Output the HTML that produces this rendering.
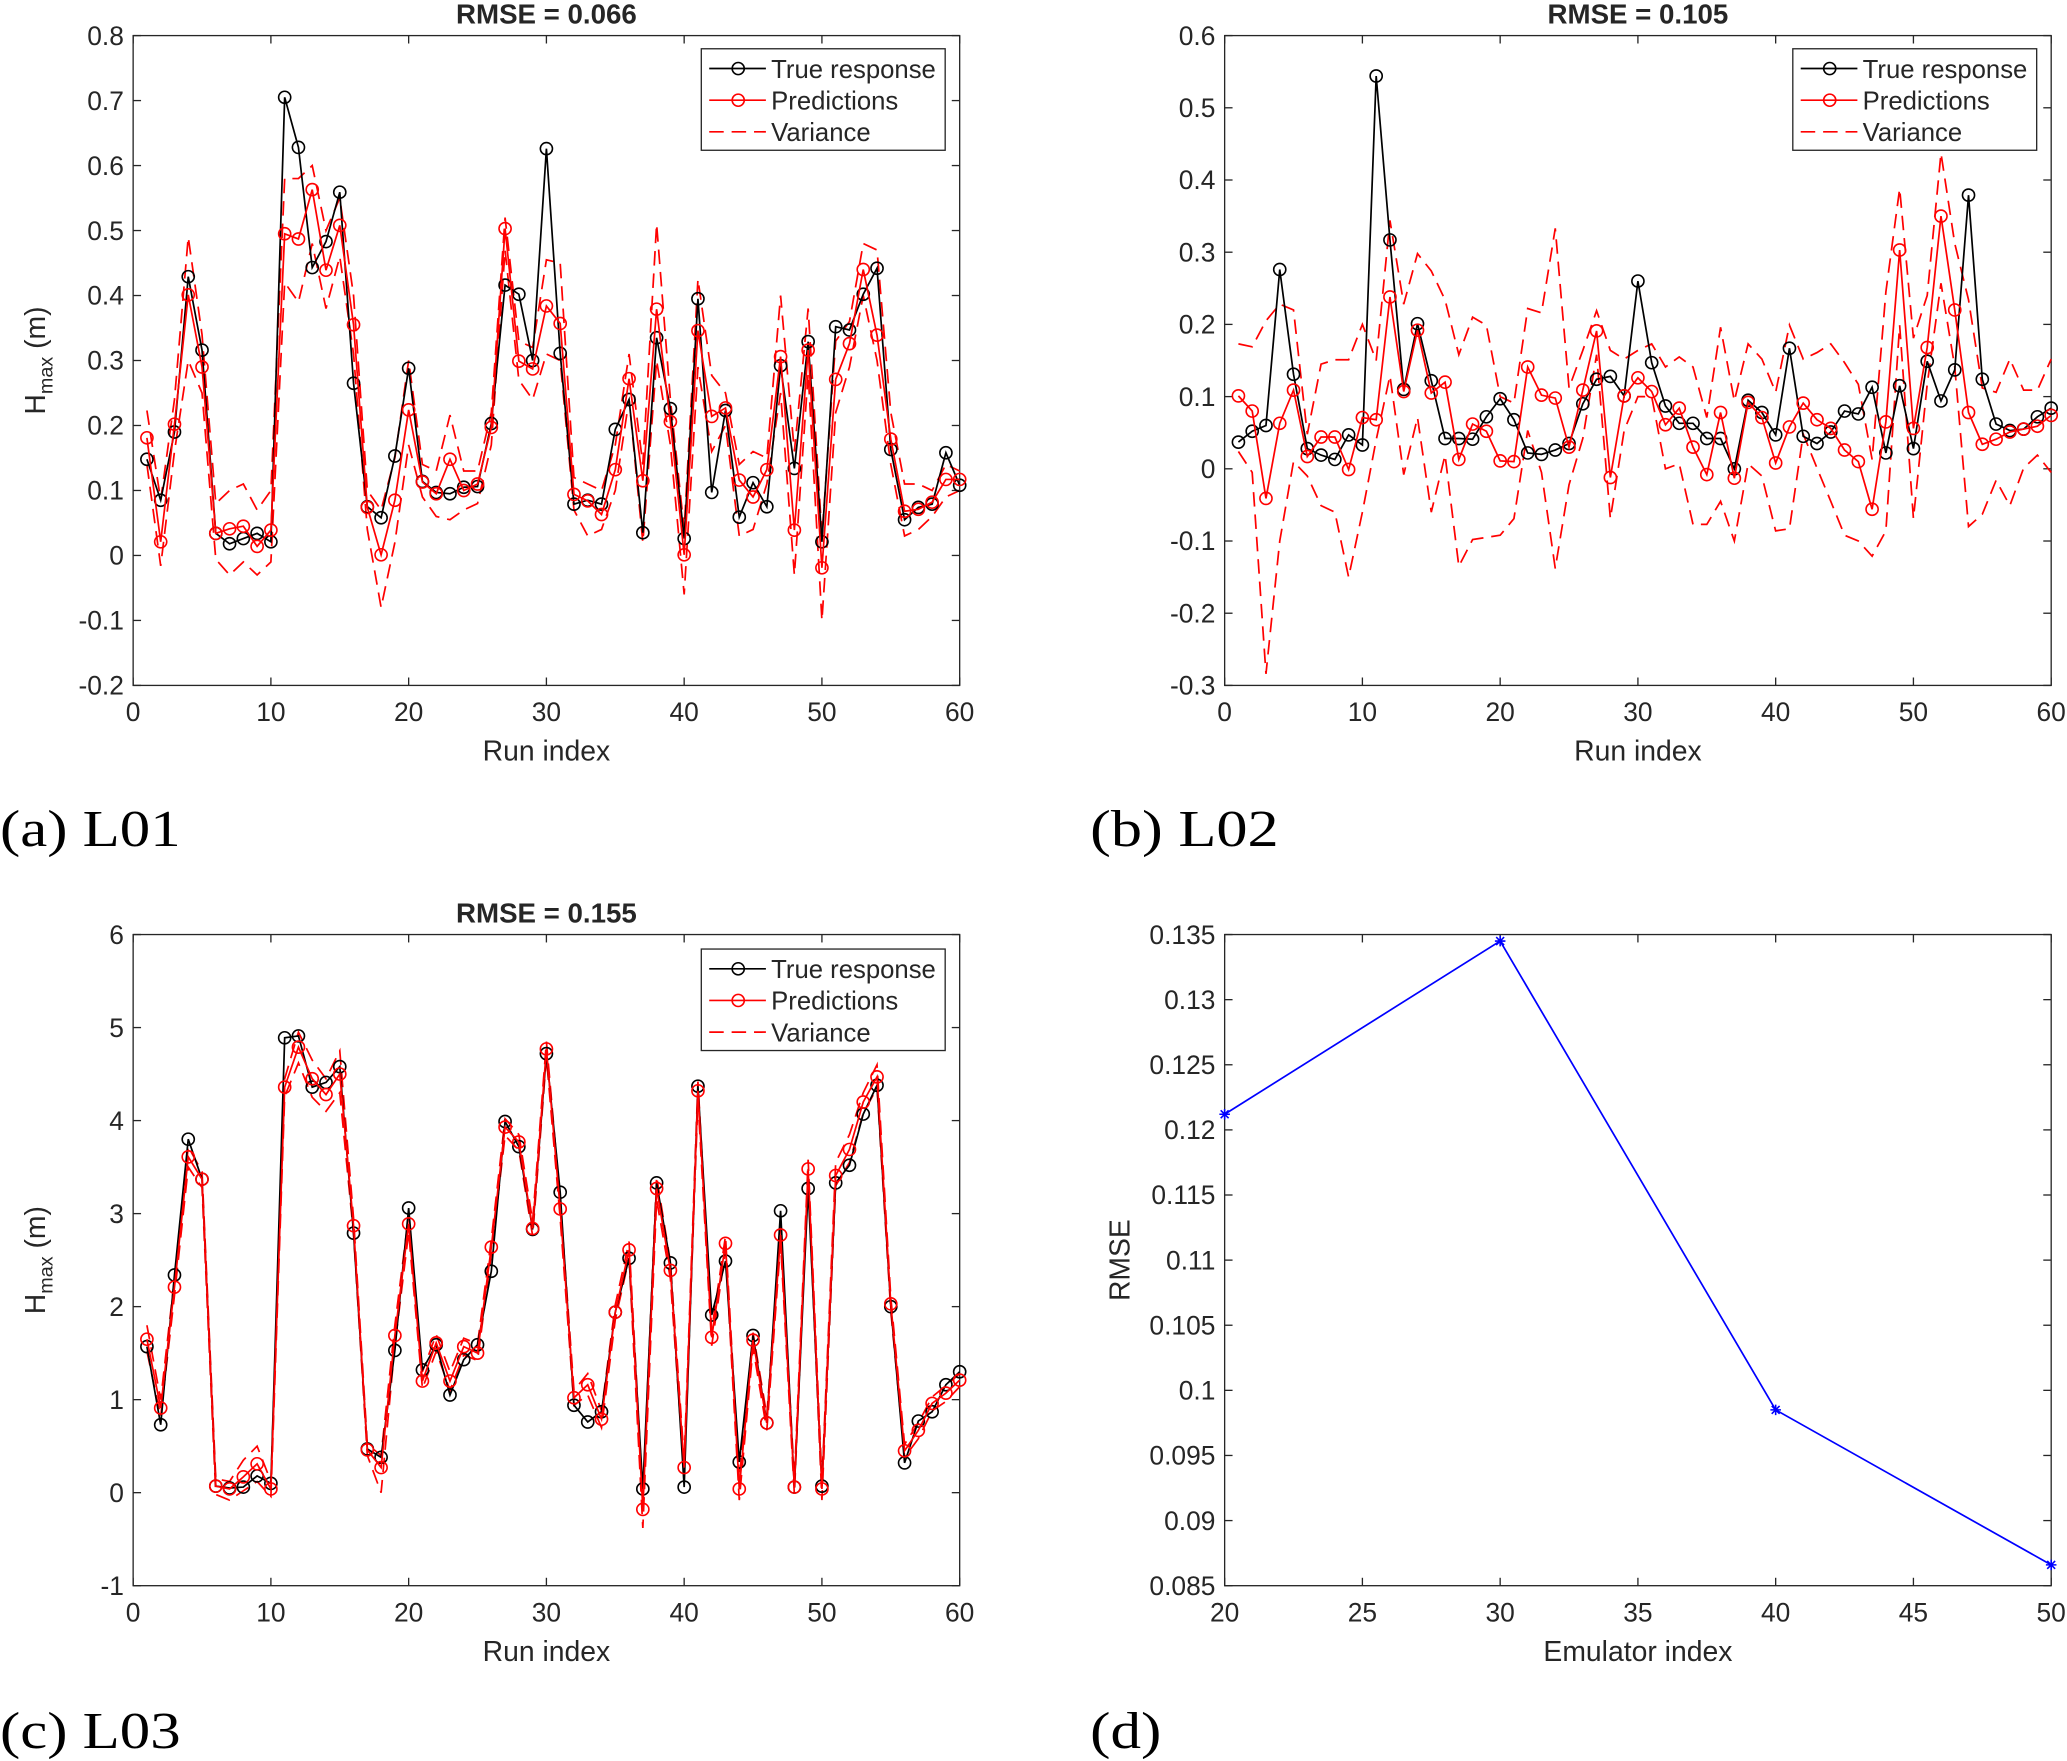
<!DOCTYPE html>
<html><head><meta charset="utf-8"><style>
html,body{margin:0;padding:0;background:#fff;}
svg{display:block;}
text{font-family:"Liberation Sans",Arial,sans-serif;fill:#262626;}
.cap{font-family:"Liberation Serif","Times New Roman",serif;fill:#000;}
</style></head><body>
<svg id="fig" xmlns="http://www.w3.org/2000/svg" width="2067" height="1761" viewBox="0 0 1568 1336" preserveAspectRatio="none">
<rect x="0" y="0" width="1568" height="1336" fill="#fff"/>
</svg>
<script>
// ---- Panel (a) L01 data ----
const runIdx = Array.from({length:60},(_, i)=>i+1);
const aTrue = [.148,.085,.19,.429,.316,.034,.018,.026,.034,.021,.705,.628,.443,.483,.559,.265,.075,.058,.153,.288,.114,.097,.095,.105,.106,.203,.416,.402,.30,.626,.311,.079,.085,.079,.194,.24,.035,.335,.226,.026,.395,.097,.223,.059,.112,.075,.292,.134,.329,.021,.352,.347,.402,.442,.163,.055,.074,.079,.158,.108];
const aPred = [.181,.021,.202,.401,.29,.034,.041,.045,.014,.039,.495,.487,.563,.439,.508,.355,.074,.001,.085,.224,.113,.095,.148,.10,.11,.197,.503,.299,.287,.384,.357,.094,.084,.063,.132,.272,.115,.379,.206,.001,.346,.214,.227,.116,.09,.132,.306,.039,.316,-.019,.271,.326,.44,.339,.179,.068,.071,.082,.117,.117];
const aUp = [.223,.085,.24,.49,.34,.08,.10,.11,.07,.10,.58,.58,.60,.50,.55,.40,.10,.07,.15,.30,.14,.13,.216,.13,.13,.22,.52,.33,.32,.455,.45,.12,.11,.10,.17,.31,.14,.51,.24,.04,.425,.277,.25,.14,.16,.15,.40,.16,.38,.03,.33,.36,.48,.47,.22,.11,.11,.10,.14,.13];
const aLo = [.14,-.016,.16,.30,.25,-.006,-.03,-.01,-.03,-.01,.42,.39,.48,.38,.46,.31,.04,-.08,.02,.17,.09,.06,.055,.07,.08,.17,.47,.27,.24,.31,.30,.07,.03,.04,.10,.24,.02,.30,.17,-.06,.29,.16,.20,.03,.04,.11,.25,-.03,.28,-.10,.22,.29,.40,.30,.14,.03,.04,.06,.09,.10];
const aYTicks = ["-0.2","-0.1","0","0.1","0.2","0.3","0.4","0.5","0.6","0.7","0.8"];
// ---- Panel (b) L02 data ----
const bTrue = [.037,.052,.06,.276,.131,.028,.019,.013,.047,.033,.544,.317,.11,.201,.122,.042,.042,.041,.072,.097,.068,.022,.02,.026,.035,.09,.124,.128,.101,.26,.147,.087,.063,.063,.042,.042,0,.095,.078,.047,.167,.045,.035,.051,.08,.076,.113,.022,.115,.028,.149,.094,.137,.379,.124,.062,.053,.055,.072,.084];
const bPred = [.101,.08,-.041,.063,.109,.017,.044,.044,-.001,.071,.068,.238,.107,.192,.105,.12,.013,.062,.052,.011,.01,.141,.102,.098,.03,.109,.191,-.012,.101,.126,.107,.061,.084,.030,-.008,.078,-.013,.092,.071,.008,.058,.091,.068,.056,.026,.01,-.056,.065,.303,.056,.168,.35,.22,.078,.034,.041,.051,.055,.059,.074];
const bUp = [.173,.169,.205,.228,.22,.048,.145,.151,.151,.20,.15,.344,.228,.298,.274,.234,.158,.21,.199,.10,.091,.222,.216,.333,.112,.164,.219,.164,.152,.164,.173,.141,.155,.141,.071,.196,.094,.173,.152,.106,.199,.152,.161,.173,.147,.117,.013,.245,.388,.181,.24,.437,.312,.234,.112,.106,.152,.109,.109,.152];
const bLo = [.024,-.005,-.284,-.10,.01,-.01,-.051,-.06,-.15,-.06,.04,.129,-.008,.071,-.06,.019,-.135,-.098,-.095,-.092,-.069,.053,-.005,-.138,-.022,.042,.158,-.069,.053,.10,.10,0,.007,-.077,-.077,-.045,-.10,.007,-.01,-.086,-.083,.048,.001,-.045,-.092,-.10,-.121,-.086,.199,-.069,.117,.257,.141,-.08,-.063,-.016,-.051,.001,.019,-.005];
const bYTicks = ["-0.3","-0.2","-0.1","0","0.1","0.2","0.3","0.4","0.5","0.6"];
// ---- Panel (c) L03 data ----
const cTrue = [1.57,.73,2.34,3.80,3.37,.07,.05,.06,.18,.10,4.89,4.91,4.36,4.41,4.58,2.79,.47,.38,1.53,3.06,1.32,1.59,1.05,1.43,1.59,2.38,3.99,3.72,2.83,4.72,3.23,.94,.76,.87,1.94,2.52,.04,3.33,2.47,.06,4.37,1.91,2.49,.33,1.69,.75,3.03,.06,3.27,.07,3.33,3.52,4.07,4.38,2.0,.32,.77,.87,1.16,1.30];
const cPred = [1.65,.91,2.21,3.61,3.37,.07,.04,.17,.31,.04,4.36,4.79,4.45,4.28,4.50,2.87,.46,.27,1.69,2.89,1.20,1.61,1.20,1.57,1.50,2.64,3.93,3.77,2.84,4.77,3.05,1.02,1.16,.79,1.94,2.61,-.18,3.27,2.39,.27,4.32,1.67,2.68,.04,1.64,.75,2.77,.06,3.48,.04,3.41,3.69,4.20,4.47,2.03,.45,.67,.96,1.07,1.21];
const cUp = [1.80,1.00,2.30,3.72,3.45,.15,.12,.35,.50,.12,4.45,4.95,4.65,4.45,4.75,2.95,.52,.40,1.80,2.98,1.30,1.70,1.30,1.66,1.60,2.72,4.02,3.85,2.92,4.85,3.15,1.10,1.28,.88,2.02,2.70,-.05,3.40,2.48,.35,4.42,1.75,2.76,.14,1.72,.83,2.87,.14,3.58,.12,3.55,3.85,4.30,4.60,2.10,.52,.75,1.03,1.15,1.28];
const cLo = [1.52,.82,2.12,3.50,3.28,-.02,-.08,.02,.12,-.04,4.26,4.62,4.25,4.10,4.30,2.78,.40,0,1.58,2.80,1.12,1.52,1.10,1.48,1.42,2.56,3.84,3.68,2.76,4.68,2.95,.94,1.05,.70,1.86,2.52,-.38,3.15,2.30,.18,4.22,1.58,2.60,-.08,1.56,.67,2.68,-.02,3.38,-.08,3.30,3.55,4.08,4.35,1.95,.38,.58,.88,.98,1.14];
const cYTicks = ["-1","0","1","2","3","4","5","6"];
// ---- Panel (d) data ----
const dEmu = [20,30,40,50];
const dRmse = [0.1212,0.1345,0.0985,0.0866];
const dYTicks = ["0.085","0.09","0.095","0.1","0.105","0.11","0.115","0.12","0.125","0.13","0.135"];
const dXTicks = ["20","25","30","35","40","45","50"];
const runXTicks = ["0","10","20","30","40","50","60"];

const NS="http://www.w3.org/2000/svg";
const svg=document.getElementById('fig');
function mk(tag,attrs,parent){const e=document.createElementNS(NS,tag);for(const k in attrs)e.setAttribute(k,attrs[k]);(parent||svg).appendChild(e);return e;}

function axes(g,L,T,R,B,xt,yt,x,y){
  const fr=mk('rect',{x:L,y:T,width:R-L,height:B-T,fill:'none',stroke:'#262626','stroke-width':1},g);
  
  
  xt.forEach(t=>{const v=parseFloat(t);const px=x(v);
    mk('line',{x1:px,y1:B,x2:px,y2:B-6,stroke:'#262626'},g);
    mk('line',{x1:px,y1:T,x2:px,y2:T+6,stroke:'#262626'},g);
    const tx=mk('text',{x:px,y:B+27,'text-anchor':'middle','font-size':20},g);tx.textContent=t;
    
    
  });
  yt.forEach(t=>{const v=parseFloat(t);const py=y(v);
    mk('line',{x1:L,y1:py,x2:L+6,y2:py,stroke:'#262626'},g);
    mk('line',{x1:R,y1:py,x2:R-6,y2:py,stroke:'#262626'},g);
    const tx=mk('text',{x:L-7,y:py+7,'text-anchor':'end','font-size':20},g);tx.textContent=t;
    
    
  });
}
function series(g,xs,ys,x,y,color,marker,dash,name){
  const pts=xs.map((v,i)=>x(v)+','+y(ys[i])).join(' ');
  const pl=mk('polyline',{points:pts,fill:'none',stroke:color,'stroke-width':1.3},g);
  if(dash)pl.setAttribute('stroke-dasharray','11 6');
  
  
  if(marker){xs.forEach((v,i)=>{
    const c=mk('circle',{cx:x(v),cy:y(ys[i]),r:4.6,fill:'none',stroke:color,'stroke-width':1.2},g);
    
    
  });}
}
function legend(g,lx,ly){
  const box=mk('rect',{x:lx,y:ly,width:185,height:77,fill:'#fff',stroke:'#262626','stroke-width':1},g);
  
  
  const items=[['True response','#000',false],['Predictions','#ff0000',false],['Variance','#ff0000',true]];
  items.forEach((it,i)=>{const yy=ly+15+i*24;
    const ln=mk('line',{x1:lx+6,y1:yy,x2:lx+49,y2:yy,stroke:it[1],'stroke-width':1.3},g);
    if(it[2])ln.setAttribute('stroke-dasharray','11 6');
    if(!it[2])mk('circle',{cx:lx+28,cy:yy,r:4.6,fill:'none',stroke:it[1],'stroke-width':1.2},g);
    const t=mk('text',{x:lx+53,y:yy+7,'font-size':19.5,fill:'#000'},g);t.textContent=it[0];
    
    
  });
}
function text(g,x,y,s,size,opts){const t=mk('text',Object.assign({x:x,y:y,'font-size':size},opts||{}),g);t.textContent=s;return t;}

function runPanel(name,L,T,R,B,ymin,ymax,yt,tr,pr,up,lo,title,lg,ylabel){
  const g=mk('g',{});
  
  
  const x=v=>L+(v-0)/(60-0)*(R-L);
  const y=v=>B-(v-ymin)/(ymax-ymin)*(B-T);
  axes(g,L,T,R,B,runXTicks,yt,x,y);
  series(g,runIdx,up,x,y,'#ff0000',false,true,'variance-upper');
  series(g,runIdx,lo,x,y,'#ff0000',false,true,'variance-lower');
  series(g,runIdx,tr,x,y,'#000',true,false,'true-response-line');
  series(g,runIdx,pr,x,y,'#ff0000',true,false,'predictions-line');
  legend(g,lg[0],lg[1]);
  const tt=text(g,(L+R)/2,T-9,title,21,{'text-anchor':'middle','font-weight':'bold',fill:'#000'});
  
  
  const xl=text(g,(L+R)/2,B+57,'Run index',21.5,{'text-anchor':'middle'});
  
  
  if(ylabel){
    const cy=(T+B)/2;
    const yl=mk('text',{x:0,y:0,'font-size':21.5,'text-anchor':'middle',transform:`translate(34,${cy}) rotate(-90)`},g);
    yl.innerHTML='H<tspan font-size="15" dy="6">max</tspan><tspan dy="-6"> (m)</tspan>';
    
    
  }
}
runPanel('panel-a-L01',101,27,728,520,-0.2,0.8,aYTicks,aTrue,aPred,aUp,aLo,'RMSE = 0.066',[532,37],true);
runPanel('panel-b-L02',929,27,1556,520,-0.3,0.6,bYTicks,bTrue,bPred,bUp,bLo,'RMSE = 0.105',[1360,37],false);
runPanel('panel-c-L03',101,709,728,1203,-1,6,cYTicks,cTrue,cPred,cUp,cLo,'RMSE = 0.155',[532,720],true);

// panel d
(function(){
  const L=929,T=709,R=1556,B=1203;
  const g=mk('g',{});
  
  
  const x=v=>L+(v-20)/30*(R-L);
  const y=v=>B-(v-0.085)/0.05*(B-T);
  axes(g,L,T,R,B,dXTicks,dYTicks,x,y);
  const pts=dEmu.map((v,i)=>x(v)+','+y(dRmse[i])).join(' ');
  const pl=mk('polyline',{points:pts,fill:'none',stroke:'#0000ff','stroke-width':1.3},g);
  
  
  dEmu.forEach((v,i)=>{const cx=x(v),cy=y(dRmse[i]);
    const s=mk('path',{d:`M${cx-4},${cy}H${cx+4}M${cx},${cy-4}V${cy+4}M${cx-3},${cy-3}L${cx+3},${cy+3}M${cx-3},${cy+3}L${cx+3},${cy-3}`,stroke:'#0000ff','stroke-width':1.2},g);
    
    
  });
  const xl=text(g,(L+R)/2,B+57,'Emulator index',21.5,{'text-anchor':'middle'});
  
  
  const yl=mk('text',{x:0,y:0,'font-size':21.5,'text-anchor':'middle',transform:`translate(857,${(T+B)/2}) rotate(-90)`},g);
  yl.textContent='RMSE';
  
  
})();

// captions
[['(a) L01',0,642,137],['(b) L02',827,642,143],['(c) L03',0,1326,137],['(d)',827,1326,54]].forEach(c=>{
  const t=mk('text',{x:c[1],y:c[2],'font-size':39,class:'cap',textLength:c[3],lengthAdjust:'spacingAndGlyphs'});t.textContent=c[0];
  
  
});
</script>
</body></html>
